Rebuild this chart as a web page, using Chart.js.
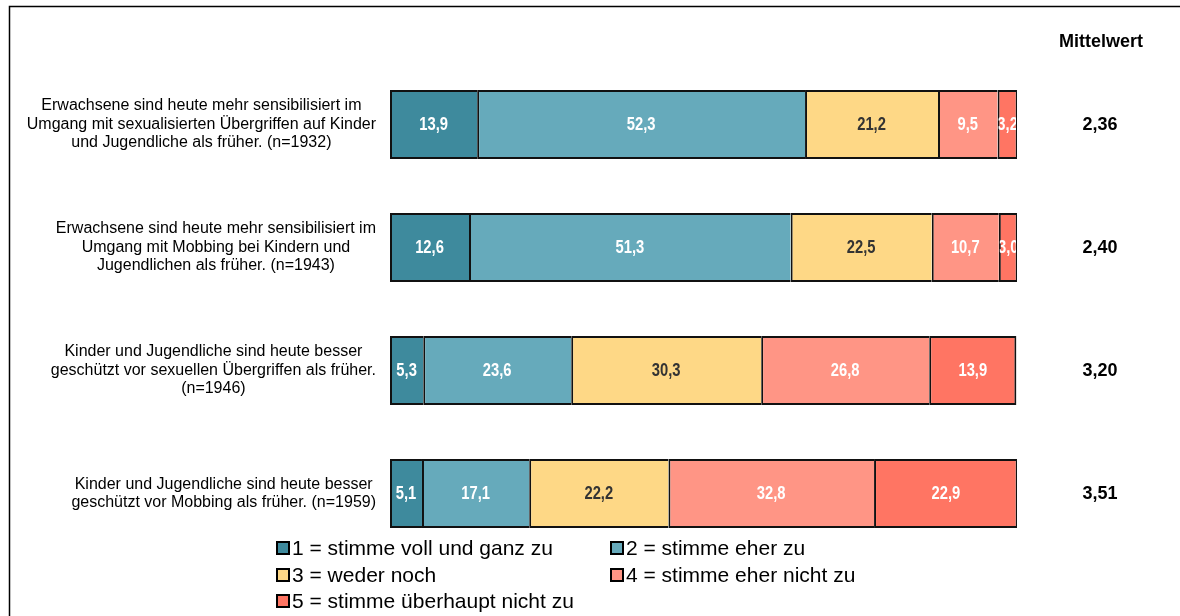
<!DOCTYPE html>
<html>
<head>
<meta charset="utf-8">
<script src="https://cdn.jsdelivr.net/npm/chart.js@4"></script>
<style>
  html, body { margin: 0; padding: 0; background: #fff; }
  #wrap { position: relative; width: 1180px; height: 616px; }
</style>
</head>
<body>
<div id="wrap"><canvas id="chart" width="1180" height="616"></canvas></div>
<script>
// --- data ---
const categories = [
  ['Erwachsene sind heute mehr sensibilisiert im', 'Umgang mit sexualisierten Übergriffen auf Kinder', 'und Jugendliche als früher. (n=1932)'],
  ['Erwachsene sind heute mehr sensibilisiert im', 'Umgang mit Mobbing bei Kindern und', 'Jugendlichen als früher. (n=1943)'],
  ['Kinder und Jugendliche sind heute besser', 'geschützt vor sexuellen Übergriffen als früher.', '(n=1946)'],
  ['Kinder und Jugendliche sind heute besser', 'geschützt vor Mobbing als früher. (n=1959)']
];
const seriesNames = [
  '1 = stimme voll und ganz zu',
  '2 = stimme eher zu',
  '3 = weder noch',
  '4 = stimme eher nicht zu',
  '5 = stimme überhaupt nicht zu'
];
const stimmeVoll = [13.9, 12.6, 5.3, 5.1];
const stimmeEher = [52.3, 51.3, 23.6, 17.1];
const wederNoch = [21.2, 22.5, 30.3, 22.2];
const eherNicht = [9.5, 10.7, 26.8, 32.8];
const ueberhauptNicht = [3.2, 3.0, 13.9, 22.9];
const mittelwerte = ['2,36', '2,40', '3,20', '3,51'];
const meanTitle = 'Mittelwert';

const colors = ['#3E8A9D', '#66AABB', '#FED886', '#FF9585', '#FF7563'];
const labelColors = ['#fff', '#fff', '#333', '#fff', '#fff'];
const seriesValues = [stimmeVoll, stimmeEher, wederNoch, eherNicht, ueberhauptNicht];

const FONT = 'Arial, "Liberation Sans", sans-serif';

// frame + y labels + mean column + legend
const decorPlugin = {
  id: 'decor',
  beforeDraw(chart) {
    const ctx = chart.ctx;
    ctx.save();
    ctx.strokeStyle = '#000';
    ctx.lineWidth = 1.5;
    ctx.beginPath();
    ctx.moveTo(9.5, 616);
    ctx.lineTo(9.5, 6.5);
    ctx.lineTo(1180, 6.5);
    ctx.stroke();
    ctx.restore();
  },
  afterDatasetsDraw(chart) {
    const ctx = chart.ctx;
    const area = chart.chartArea;
    // value labels inside the bars, clipped to each bar, condensed
    chart.data.datasets.forEach((ds, di) => {
      const meta = chart.getDatasetMeta(di);
      meta.data.forEach((bar, i) => {
        const left = Math.min(bar.x, bar.base);
        const right = Math.min(Math.max(bar.x, bar.base), area.right);
        const h = bar.height;
        const cx = (left + Math.max(bar.x, bar.base)) / 2;
        ctx.save();
        ctx.beginPath();
        ctx.rect(left + 1, bar.y - h / 2, right - left - 2, h);
        ctx.clip();
        ctx.fillStyle = labelColors[di];
        ctx.font = 'bold 18px ' + FONT;
        ctx.textAlign = 'center';
        ctx.textBaseline = 'middle';
        ctx.translate(cx, bar.y + 1);
        ctx.scale(0.82, 1);
        const txt = ds.data[i].toFixed(1).replace('.', ',');
        ctx.fillText(txt, 0, 0);
        ctx.restore();
      });
    });
  },
  afterDraw(chart) {
    const ctx = chart.ctx;
    const y = chart.scales.y;
    ctx.save();
    // category labels: block right aligned, lines centred
    ctx.font = '16px ' + FONT;
    ctx.fillStyle = '#000';
    ctx.textAlign = 'center';
    ctx.textBaseline = 'middle';
    const lh = 18.5;
    categories.forEach((lines, i) => {
      const cy = y.getPixelForTick(i);
      const w = Math.max(...lines.map(l => ctx.measureText(l).width));
      const cx = 376 - w / 2;
      lines.forEach((l, k) => {
        ctx.fillText(l, cx, cy + (k - (lines.length - 1) / 2) * lh);
      });
    });
    // mean column
    ctx.font = 'bold 18px ' + FONT;
    ctx.fillText(meanTitle, 1101, 42);
    mittelwerte.forEach((m, i) => {
      ctx.fillText(m, 1100, y.getPixelForTick(i) + 1);
    });
    // legend
    const colX = [277, 611];
    const rowY = [548, 575, 601];
    ctx.font = '21px ' + FONT;
    ctx.textAlign = 'left';
    chart.data.datasets.forEach((ds, i) => {
      const bx = colX[i % 2];
      const by = rowY[Math.floor(i / 2)];
      ctx.fillStyle = ds.backgroundColor;
      ctx.fillRect(bx, by - 6, 12, 12);
      ctx.strokeStyle = '#000';
      ctx.lineWidth = 2;
      ctx.strokeRect(bx, by - 6, 12, 12);
      ctx.fillStyle = '#000';
      ctx.fillText(ds.label, bx + 15, by + 1);
    });
    ctx.restore();
  }
};

const lastSeries = seriesNames.length - 1;

new Chart(document.getElementById('chart'), {
  type: 'bar',
  data: {
    labels: categories,
    datasets: seriesNames.map((name, i) => ({
      label: name,
      data: seriesValues[i],
      backgroundColor: colors[i],
      borderColor: '#111',
      // shared 2px separators between stacked segments
      borderWidth: {
        top: 2, bottom: 2, left: 2,
        right: i === lastSeries ? 2 : 0
      },
      borderSkipped: false,
      barPercentage: 0.56,
      categoryPercentage: 1
    }))
  },
  options: {
    indexAxis: 'y',
    responsive: false,
    animation: false,
    layout: { padding: { top: 63, bottom: 61, right: 163, left: 0 } },
    plugins: { legend: { display: false }, tooltip: { enabled: false } },
    scales: {
      x: { stacked: true, min: 0, max: 100, display: false },
      y: {
        stacked: true,
        grid: { display: false },
        border: { display: false },
        ticks: { display: false },
        afterFit(scale) { scale.width = 390; }
      }
    }
  },
  plugins: [decorPlugin]
});
</script>
</body>
</html>
